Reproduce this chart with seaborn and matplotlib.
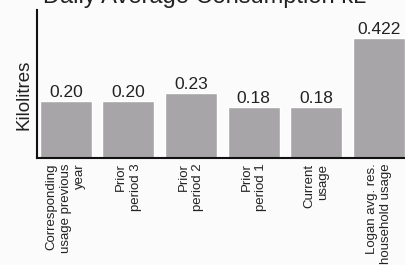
import matplotlib
matplotlib.use("Agg")
import matplotlib.pyplot as plt
import seaborn as sns
import pandas as pd

categories = ["Corresponding\nusage previous\nyear", "Prior\nperiod 3", "Prior\nperiod 2",
              "Prior\nperiod 1", "Current\nusage", "Logan avg. res.\nhousehold usage"]
values = [0.20, 0.20, 0.23, 0.18, 0.18, 0.422]
value_labels = ["0.20", "0.20", "0.23", "0.18", "0.18", "0.422"]

sns.set_style("white")
plt.rcParams['font.family'] = ['Liberation Sans', 'DejaVu Sans']

df = pd.DataFrame({'Category': categories, 'Kilolitres': values})

fig = plt.figure(figsize=(4.06, 2.65), dpi=100, facecolor='#fbfbfb')
ax = fig.add_axes([37 / 406, 107 / 265, 369 / 406, 148 / 265])
ax.set_facecolor('#fbfbfb')

sns.barplot(data=df, x='Category', y='Kilolitres', color='#a7a5a8', width=0.83,
            saturation=1, ax=ax)

for i, (v, lbl) in enumerate(zip(values, value_labels)):
    ax.text(i, v + 0.003, lbl, ha='center', va='bottom', fontsize=12.5, color='#222222')

ax.set_ylim(0, 0.52)
ax.set_xlim(-0.46, 5.43)
ax.set_yticks([])
ax.set_xlabel('')
ax.set_ylabel('Kilolitres', fontsize=13.5, color='#222222')
ax.yaxis.set_label_coords(-0.012, 0.43)
ax.set_xticks(range(len(categories)))
ax.set_xticklabels(categories, rotation=90, fontsize=9.5, color='#222222',
                   ha='center', va='top', multialignment='right', linespacing=1.25)
ax.tick_params(axis='x', length=0, pad=4)

for side in ['top', 'right']:
    ax.spines[side].set_visible(False)
for side in ['left', 'bottom']:
    ax.spines[side].set_color('#111111')
    ax.spines[side].set_linewidth(1.5)

fig.text(205 / 406, 1 - 3 / 265, 'Daily Average Consumption kL', ha='center', va='baseline',
         fontsize=17, color='#222222')

fig.savefig('out.png', dpi=100, facecolor=fig.get_facecolor())
